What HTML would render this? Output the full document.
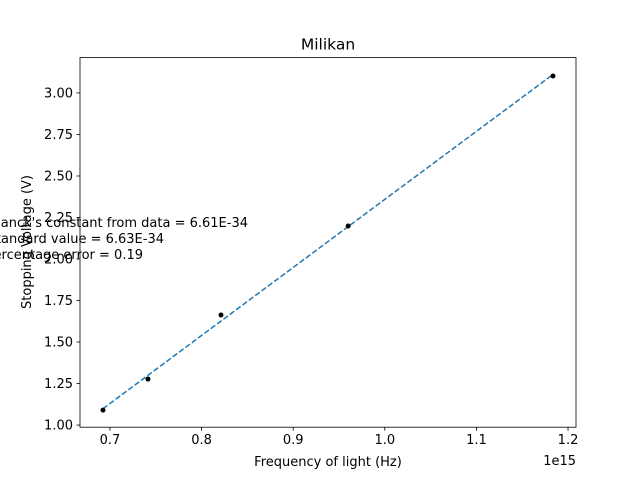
<!DOCTYPE html>
<html><head><meta charset="utf-8"><style>
body{margin:0;background:#fff}
svg text{font-family:"DejaVu Sans","Liberation Sans",sans-serif;fill:#000}
</style></head><body>
<svg id="chart" width="640" height="480" xmlns="http://www.w3.org/2000/svg">
<rect width="640" height="480" fill="#fff"/>
<g id="plot"></g>
</svg>
<script>
const freqs=[0.6924,0.7415,0.8212,0.9600,1.1836];
const voltages=[1.09,1.277,1.663,2.199,3.102];
const xTicks=[0.7,0.8,0.9,1.0,1.1,1.2];
const xTickLabels=["0.7","0.8","0.9","1.0","1.1","1.2"];
const yTicks=[1.00,1.25,1.50,1.75,2.00,2.25,2.50,2.75,3.00];
const yTickLabels=["1.00","1.25","1.50","1.75","2.00","2.25","2.50","2.75","3.00"];
const annotations=["Planck's constant from data = 6.61E-34","Standard value = 6.63E-34","Percentage error = 0.19"];

const L=80,R=576,T=57.6,B=427.2;
const xmin=0.6673,xmax=1.2087,ymin=0.987,ymax=3.213;
const sx=v=>L+(v-xmin)/(xmax-xmin)*(R-L);
const sy=v=>B-(v-ymin)/(ymax-ymin)*(B-T);
const NS="http://www.w3.org/2000/svg";
const g=document.getElementById('plot');
const FS='13';
function mk(tag,attrs,txt){const e=document.createElementNS(NS,tag);for(const k in attrs)e.setAttribute(k,attrs[k]);if(txt!==undefined)e.textContent=txt;g.appendChild(e);return e;}

let e=mk('rect',{x:L,y:T,width:R-L,height:B-T,fill:'none',stroke:'#000','stroke-width':0.8});



xTicks.forEach((t,i)=>{
 let l=mk('line',{x1:sx(t),x2:sx(t),y1:B,y2:B+3.5,stroke:'#000','stroke-width':0.8});
 
 
 let tx=mk('text',{x:sx(t),y:B+17,'text-anchor':'middle','font-size':FS},xTickLabels[i]);
 
 
});
yTicks.forEach((t,i)=>{
 let l=mk('line',{x1:L-3.5,x2:L,y1:sy(t),y2:sy(t),stroke:'#000','stroke-width':0.8});
 
 
 let tx=mk('text',{x:L-7,y:sy(t)+4.6,'text-anchor':'end','font-size':FS},yTickLabels[i]);
 
 
});

const n=freqs.length,mx=freqs.reduce((a,b)=>a+b)/n,my=voltages.reduce((a,b)=>a+b)/n;
let num=0,den=0;for(let i=0;i<n;i++){num+=(freqs[i]-mx)*(voltages[i]-my);den+=(freqs[i]-mx)**2;}
const m=num/den,c=my-m*mx;
const x0=Math.min(...freqs),x1=Math.max(...freqs);
e=mk('line',{x1:sx(x0),y1:sy(m*x0+c),x2:sx(x1),y2:sy(m*x1+c),stroke:'#1f77b4','stroke-width':1.5,'stroke-dasharray':'5.5,2.4'});



freqs.forEach((f,i)=>{
 let p=mk('circle',{cx:sx(f),cy:sy(voltages[i]),r:2.5,fill:'#000'});
 
 
});

e=mk('text',{x:(L+R)/2,y:T-8,'text-anchor':'middle','font-size':'15.5'},'Milikan');


e=mk('text',{x:(L+R)/2,y:466,'text-anchor':'middle','font-size':FS},'Frequency of light (Hz)');


e=mk('text',{x:576,y:465,'text-anchor':'end','font-size':FS},'1e15');


e=mk('text',{x:0,y:0,'text-anchor':'middle','font-size':FS,transform:'translate(31,242) rotate(-90)'},'Stopping Voltage (V)');



const annEnds=[248,164,143];
annotations.forEach((a,i)=>{
 let t=mk('text',{x:annEnds[i],y:227+i*16,'text-anchor':'end','font-size':FS},a);
 
 
});
</script>
</body></html>
